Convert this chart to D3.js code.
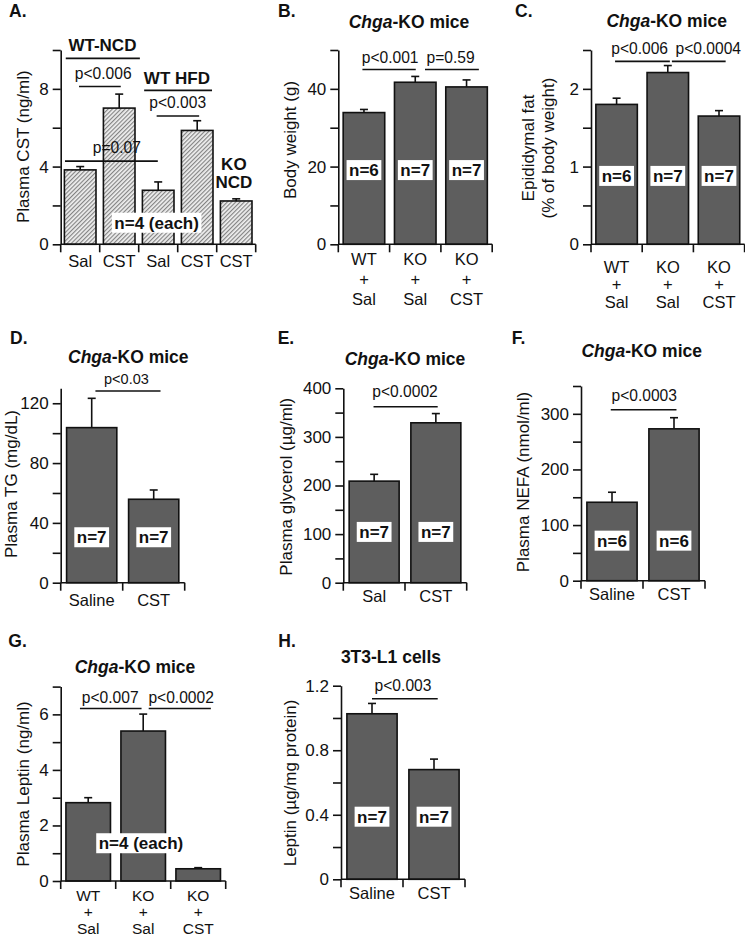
<!DOCTYPE html>
<html><head><meta charset="utf-8">
<script src="https://cdn.jsdelivr.net/npm/d3@7"></script>
<style>body{margin:0;background:#fff}svg{display:block}</style>
</head><body><svg id="c" width="745" height="944"></svg>
<script>
// ---------- DATA ----------
const catsA = ["Sal", "CST", "Sal", "CST", "CST"];
const valsA = [3.83, 7.01, 2.78, 5.86, 2.23];
const errsA = [0.17, 0.72, 0.43, 0.50, 0.11];
const yTicksA = [0, 2, 4, 6, 8, 10];
const yTickLabA = ["0", "", "4", "", "8", ""];
const groupA = ["WT-NCD", "WT HFD", "KO", "NCD"];
const pA = ["p<0.006", "p<0.003", "p=0.07"];
const nA = ["n=4 (each)"];

const catsB = ["WT|+|Sal", "KO|+|Sal", "KO|+|CST"];
const valsB = [33.9, 41.7, 40.5];
const errsB = [0.8, 1.5, 1.8];
const yTicksB = [0, 10, 20, 30, 40, 50];
const yTickLabB = ["0", "", "20", "", "40", ""];
const pB = ["p<0.001", "p=0.59"];
const nB = ["n=6", "n=7", "n=7"];

const catsC = ["WT|+|Sal", "KO|+|Sal", "KO|+|CST"];
const valsC = [1.80, 2.21, 1.65];
const errsC = [0.08, 0.09, 0.07];
const yTicksC = [0, 0.5, 1, 1.5, 2, 2.5];
const yTickLabC = ["0", "", "1", "", "2", ""];
const pC = ["p<0.006", "p<0.0004"];
const nC = ["n=6", "n=7", "n=7"];

const catsD = ["Saline", "CST"];
const valsD = [103.7, 55.8];
const errsD = [19.6, 6.2];
const yTicksD = [0, 20, 40, 60, 80, 100, 120];
const yTickLabD = ["0", "", "40", "", "80", "", "120"];
const pD = ["p<0.03"];
const nD = ["n=7", "n=7"];

const catsE = ["Sal", "CST"];
const valsE = [209, 329];
const errsE = [14, 19];
const yTicksE = [0, 50, 100, 150, 200, 250, 300, 350, 400];
const yTickLabE = ["0", "", "100", "", "200", "", "300", "", "400"];
const pE = ["p<0.0002"];
const nE = ["n=7", "n=7"];

const catsF = ["Saline", "CST"];
const valsF = [141, 273];
const errsF = [18, 20];
const yTicksF = [0, 50, 100, 150, 200, 250, 300, 350];
const yTickLabF = ["0", "", "100", "", "200", "", "300", ""];
const pF = ["p<0.0003"];
const nF = ["n=6", "n=6"];

const catsG = ["WT|+|Sal", "KO|+|Sal", "KO|+|CST"];
const valsG = [2.82, 5.40, 0.44];
const errsG = [0.18, 0.61, 0.04];
const yTicksG = [0, 1, 2, 3, 4, 5, 6, 7];
const yTickLabG = ["0", "", "2", "", "4", "", "6", ""];
const pG = ["p<0.007", "p<0.0002"];
const nG = ["n=4 (each)"];

const catsH = ["Saline", "CST"];
const valsH = [1.026, 0.68];
const errsH = [0.064, 0.065];
const yTicksH = [0, 0.2, 0.4, 0.6, 0.8, 1.0, 1.2];
const yTickLabH = ["0", "", "0.4", "", "0.8", "", "1.2"];
const pH = ["p<0.003"];
const nH = ["n=7", "n=7"];

const titleKO = ["Chga", "-KO mice"];
const titleH = "3T3-L1 cells";

// ---------- DRAWING ----------
const FONT = '"Liberation Sans", Arial, Helvetica, sans-serif';
const INK = "#111";
const BAR = "#5e5e5e";
const svg = d3.select("#c");
const defs = svg.append("defs");
const pat = defs.append("pattern").attr("id", "hatch").attr("patternUnits", "userSpaceOnUse")
  .attr("width", 3).attr("height", 3).attr("patternTransform", "rotate(45)");
pat.append("rect").attr("width", 3).attr("height", 3).attr("fill", "#efefef");
pat.append("line").attr("x1", 0.6).attr("y1", 0).attr("x2", 0.6).attr("y2", 3)
  .attr("stroke", "#7e7e7e").attr("stroke-width", 1.1);

function drawPanel(c) {
  const n = c.cats.length;
  const pad = 0.19;
  const x = d3.scaleBand().domain(d3.range(n)).range([c.ax, c.xEnd]).paddingInner(pad).paddingOuter(pad / 2);
  const y = d3.scaleLinear().domain([0, c.max]).range([c.y0, c.yTop]);
  const step = x.step();
  const ux = u => c.ax + u * step;
  const bw = x.bandwidth();
  const g = svg.append("g").attr("font-family", FONT).attr("fill", INK);

  // bars
  g.selectAll("rect.bar").data(c.vals).join("rect").attr("class", "bar")
    .attr("x", (d, i) => x(i)).attr("y", d => y(d))
    .attr("width", bw).attr("height", d => y(0) - y(d))
    .attr("fill", c.fill).attr("stroke", INK).attr("stroke-width", 1.6);

  // error bars (upper)
  const eb = g.selectAll("g.eb").data(c.vals).join("g").attr("class", "eb")
    .attr("stroke", INK).attr("stroke-width", 1.6);
  eb.append("line").attr("x1", (d, i) => x(i) + bw / 2).attr("x2", (d, i) => x(i) + bw / 2)
    .attr("y1", d => y(d)).attr("y2", (d, i) => y(d + c.errs[i]));
  eb.append("line").attr("x1", (d, i) => x(i) + bw / 2 - 4).attr("x2", (d, i) => x(i) + bw / 2 + 4)
    .attr("y1", (d, i) => y(d + c.errs[i])).attr("y2", (d, i) => y(d + c.errs[i]));

  // y axis
  const ya = d3.axisLeft(y).tickValues(c.ticks).tickFormat((d, i) => c.tickLabels[i])
    .tickSize(8).tickSizeOuter(0).tickPadding(4);
  const yg = g.append("g").attr("transform", `translate(${c.ax},0)`).call(ya);
  yg.attr("font-size", 17).attr("font-family", FONT);
  yg.selectAll("path,line").attr("stroke", INK).attr("stroke-width", 1.6);
  yg.selectAll("text").attr("fill", INK);

  // x axis
  g.append("line").attr("x1", c.ax).attr("x2", c.xEnd).attr("y1", y(0)).attr("y2", y(0))
    .attr("stroke", INK).attr("stroke-width", 1.6);
  g.selectAll("line.xt").data(d3.range(n + 1)).join("line").attr("class", "xt")
    .attr("x1", i => ux(i)).attr("x2", i => ux(i)).attr("y1", y(0)).attr("y2", y(0) + 8)
    .attr("stroke", INK).attr("stroke-width", 1.6);
  c.cats.forEach((cat, i) => {
    cat.split("|").forEach((s, k) => {
      g.append("text").attr("x", x(i) + bw / 2).attr("y", c.xlab0 + k * c.xlabStep)
        .attr("text-anchor", "middle").attr("font-size", c.xFont || 16.5).text(s);
    });
  });

  // y title
  c.ylabel.forEach((s, k) => {
    g.append("text").attr("transform", `translate(${c.ylx[k]},${c.yly}) rotate(-90)`)
      .attr("dy", "0.35em").attr("text-anchor", "middle").attr("font-size", 17).text(s);
  });

  // panel letter
  g.append("text").attr("x", c.lx).attr("y", c.ly).attr("font-size", 17.5).attr("font-weight", "bold").text(c.letter);

  // title
  if (c.title) {
    const t = g.append("text").attr("x", c.tx).attr("y", c.ty).attr("text-anchor", "middle")
      .attr("font-size", 17.5).attr("font-weight", "bold");
    if (Array.isArray(c.title)) {
      t.append("tspan").attr("font-style", "italic").text(c.title[0]);
      t.append("tspan").text(c.title[1]);
    } else t.text(c.title);
  }

  // comparison lines
  (c.lines || []).forEach(l => {
    g.append("line").attr("x1", ux(l[0])).attr("x2", ux(l[1])).attr("y1", y(l[2])).attr("y2", y(l[2]))
      .attr("stroke", INK).attr("stroke-width", 1.6);
  });
  // annotation texts
  (c.texts || []).forEach(t => {
    g.append("text").attr("x", ux(t[1])).attr("y", y(t[2])).attr("text-anchor", "middle")
      .attr("font-size", t[3] ? 17 : c.pFont).attr("font-weight", t[3] ? "bold" : "normal").text(t[0]);
  });

  // n labels (white boxes)
  const boxes = c.boxes || c.nlab.map((s, i) => [s, i + 0.5, c.nV]);
  boxes.forEach(b => {
    const bg = g.append("g");
    const r = bg.append("rect").attr("fill", "#fff");
    const t = bg.append("text").attr("x", ux(b[1])).attr("y", y(b[2])).attr("dy", "0.35em")
      .attr("text-anchor", "middle").attr("font-size", 17).attr("font-weight", "bold").text(b[0]);
    const bb = t.node().getBBox();
    r.attr("x", bb.x - 2.5).attr("y", y(b[2]) - 10).attr("width", bb.width + 5).attr("height", 20);
  });
}

drawPanel({cats: catsA, vals: valsA, errs: errsA, ticks: yTicksA, tickLabels: yTickLabA, fill: "url(#hatch)",
  ax: 60.7, xEnd: 255.7, y0: 244.3, yTop: 50, max: 10, xlab0: 266.7, xlabStep: 0,
  ylabel: ["Plasma CST (ng/ml)"], ylx: [23.3], yly: 146.7, letter: "A.", lx: 9, ly: 16.5, pFont: 15.6,
  lines: [[0.13, 2.03, 9.57], [0.47, 1.54, 8.12], [2.14, 3.88, 7.92], [2.46, 3.55, 6.6], [0.11, 2.49, 4.28]],
  texts: [[groupA[0], 1.07, 9.93, true], [pA[0], 1.09, 8.5, false], [groupA[1], 2.98, 8.25, true],
    [pA[1], 3.0, 7.01, false], [pA[2], 1.44, 4.69, false], [groupA[2], 4.44, 3.83, true], [groupA[3], 4.44, 2.89, true]],
  boxes: [[nA[0], 2.46, 1.11]]});

drawPanel({cats: catsB, vals: valsB, errs: errsB, ticks: yTicksB, tickLabels: yTickLabB, fill: BAR,
  ax: 338.3, xEnd: 492.2, y0: 244.3, yTop: 50, max: 50, xlab0: 265, xlabStep: 20,
  ylabel: ["Body weight (g)"], ylx: [289.7], yly: 140, letter: "B.", lx: 278, ly: 16.5,
  title: titleKO, tx: 409, ty: 28.3, pFont: 15.6,
  lines: [[0.47, 1.51, 45.0], [1.69, 2.74, 45.0]],
  texts: [[pB[0], 1.01, 46.6, false], [pB[1], 2.19, 46.6, false]],
  nlab: nB, nV: 19.1});

drawPanel({cats: catsC, vals: valsC, errs: errsC, ticks: yTicksC, tickLabels: yTickLabC, fill: BAR,
  ax: 591, xEnd: 744.6, y0: 244.3, yTop: 50, max: 2.5, xlab0: 272.7, xlabStep: 17.7,
  ylabel: ["Epididymal fat", "(% of body weight)"], ylx: [528.3, 547.8], yly: 148, letter: "C.", lx: 515, ly: 16.5,
  title: titleKO, tx: 666.7, ty: 26.5, pFont: 15.6,
  lines: [[0.47, 1.54, 2.354], [1.58, 2.63, 2.354]],
  texts: [[pC[0], 0.95, 2.45, false], [pC[1], 2.29, 2.45, false]],
  nlab: nC, nV: 0.88});

drawPanel({cats: catsD, vals: valsD, errs: errsD, ticks: yTicksD, tickLabels: yTickLabD, fill: BAR,
  ax: 60.7, xEnd: 184.7, y0: 582.7, yTop: 388.3, max: 130, xlab0: 606.3, xlabStep: 0,
  ylabel: ["Plasma TG (mg/dL)"], ylx: [10.7], yly: 484, letter: "D.", lx: 10, ly: 344.3,
  title: titleKO, tx: 128.3, ty: 362.7, pFont: 14.5,
  lines: [[0.56, 1.61, 128.2]],
  texts: [[pD[0], 1.06, 132.7, false]],
  nlab: nD, nV: 30.4});

drawPanel({cats: catsE, vals: valsE, errs: errsE, ticks: yTicksE, tickLabels: yTickLabE, fill: BAR,
  ax: 343.3, xEnd: 466.7, y0: 582.7, yTop: 388.3, max: 400, xlab0: 601.7, xlabStep: 0,
  ylabel: ["Plasma glycerol (\u00b5g/ml)"], ylx: [285.7], yly: 486.7, letter: "E.", lx: 277.7, ly: 344.3,
  title: titleKO, tx: 405, ty: 365, pFont: 15.6,
  lines: [[0.49, 1.53, 362]],
  texts: [[pE[0], 1.0, 382.7, false]],
  nlab: nE, nV: 104.5});

drawPanel({cats: catsF, vals: valsF, errs: errsF, ticks: yTicksF, tickLabels: yTickLabF, fill: BAR,
  ax: 581, xEnd: 705, y0: 580.7, yTop: 386, max: 350, xlab0: 600, xlabStep: 0,
  ylabel: ["Plasma NEFA (nmol/ml)"], ylx: [523.3], yly: 482, letter: "F.", lx: 511.7, ly: 344.3,
  title: titleKO, tx: 641.7, ty: 357.3, pFont: 15.6,
  lines: [[0.48, 1.54, 307.2]],
  texts: [[pF[0], 1.02, 322.7, false]],
  nlab: nF, nV: 72});

drawPanel({cats: catsG, vals: valsG, errs: errsG, ticks: yTicksG, tickLabels: yTickLabG, fill: BAR,
  ax: 60.7, xEnd: 225.7, y0: 881, yTop: 686.6, max: 7, xlab0: 901, xlabStep: 16.3, xFont: 15.5,
  ylabel: ["Plasma Leptin (ng/ml)"], ylx: [23.3], yly: 784, letter: "G.", lx: 8.3, ly: 646.7,
  title: titleKO, tx: 135, ty: 672.7, pFont: 15.6,
  lines: [[0.35, 1.47, 6.21], [1.6, 2.73, 6.21]],
  texts: [[pG[0], 0.9, 6.41, false], [pG[1], 2.19, 6.41, false]],
  boxes: [[nG[0], 1.46, 1.36]]});

drawPanel({cats: catsH, vals: valsH, errs: errsH, ticks: yTicksH, tickLabels: yTickLabH, fill: BAR,
  ax: 341, xEnd: 465, y0: 879.3, yTop: 685.7, max: 1.2, xlab0: 899.3, xlabStep: 0,
  ylabel: ["Leptin (\u00b5g/mg protein)"], ylx: [289.7], yly: 783, letter: "H.", lx: 278.3, ly: 646.7,
  title: titleH, tx: 391, ty: 662.7, pFont: 15.6,
  lines: [[0.5, 1.56, 1.119]],
  texts: [[pH[0], 1.0, 1.168, false]],
  nlab: nH, nV: 0.388});
</script>
</body></html>
